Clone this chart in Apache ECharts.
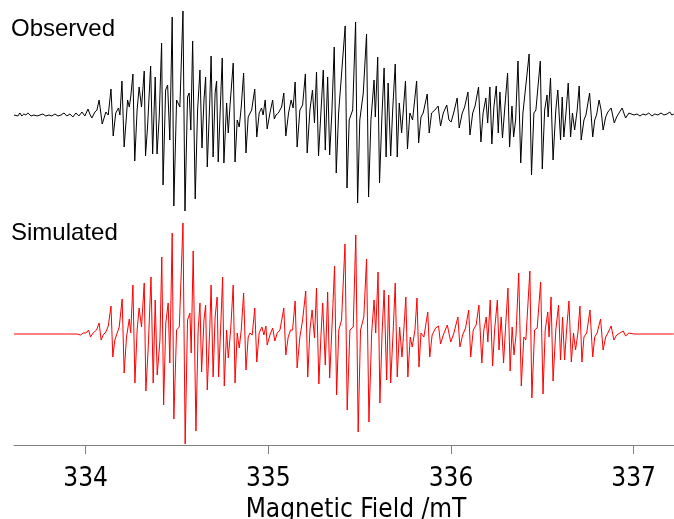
<!DOCTYPE html>
<html>
<head>
<meta charset="utf-8">
<script src="https://cdn.jsdelivr.net/npm/echarts@6/dist/echarts.min.js"></script>
<style>
  html, body { margin: 0; padding: 0; background: #ffffff; }
  #chart { width: 674px; height: 519px; }
</style>
</head>
<body>
<div id="chart"></div>
<script>
  // field in mT, signal in arbitrary units (derivative EPR spectrum)
  var fieldMin = 333.608;
  var fieldMax = 337.221;
  var tickValues = [334, 335, 336, 337];

  var observedField = [
    333.608, 333.618, 333.629, 333.640, 333.651, 333.662, 333.673, 333.684, 333.701, 333.717,
    333.734, 333.750, 333.766, 333.782, 333.799, 333.815, 333.832, 333.849, 333.865, 333.882,
    333.897, 333.914, 333.930, 333.947, 333.963, 333.980, 333.996, 334.013, 334.023, 334.034,
    334.051, 334.062, 334.074, 334.091, 334.111, 334.124, 334.139, 334.151, 334.165, 334.180,
    334.188, 334.199, 334.211, 334.230, 334.239, 334.247, 334.259, 334.269, 334.282, 334.293,
    334.306, 334.321, 334.328, 334.339, 334.356, 334.367, 334.381, 334.391, 334.403, 334.416,
    334.424, 334.438, 334.449, 334.461, 334.474, 334.483, 334.498, 334.516, 334.533, 334.544,
    334.558, 334.567, 334.576, 334.586, 334.600, 334.613, 334.626, 334.637, 334.648, 334.657,
    334.666, 334.680, 334.687, 334.698, 334.709, 334.717, 334.726, 334.739, 334.748, 334.757,
    334.772, 334.781, 334.790, 334.808, 334.818, 334.830, 334.841, 334.852, 334.865, 334.878,
    334.890, 334.909, 334.926, 334.937, 334.950, 334.963, 334.972, 334.983, 334.994, 335.009,
    335.024, 335.033, 335.042, 335.055, 335.073, 335.085, 335.096, 335.111, 335.125, 335.136,
    335.147, 335.158, 335.173, 335.188, 335.203, 335.213, 335.228, 335.242, 335.253, 335.264,
    335.275, 335.288, 335.301, 335.312, 335.325, 335.336, 335.348, 335.361, 335.372, 335.385,
    335.421, 335.431, 335.443, 335.462, 335.478, 335.489, 335.501, 335.520, 335.538, 335.549,
    335.562, 335.579, 335.586, 335.599, 335.609, 335.622, 335.634, 335.645, 335.656, 335.670,
    335.681, 335.695, 335.706, 335.717, 335.730, 335.751, 335.762, 335.775, 335.790, 335.812,
    335.823, 335.836, 335.848, 335.870, 335.881, 335.894, 335.912, 335.930, 335.943, 335.958,
    335.977, 335.989, 336.001, 336.016, 336.034, 336.045, 336.062, 336.075, 336.093, 336.104,
    336.119, 336.132, 336.151, 336.164, 336.176, 336.191, 336.201, 336.213, 336.224, 336.235,
    336.248, 336.259, 336.268, 336.282, 336.295, 336.310, 336.321, 336.334, 336.343, 336.354,
    336.367, 336.382, 336.394, 336.404, 336.428, 336.441, 336.454, 336.465, 336.489, 336.500,
    336.513, 336.526, 336.532, 336.545, 336.559, 336.574, 336.585, 336.600, 336.609, 336.618,
    336.631, 336.642, 336.655, 336.665, 336.677, 336.691, 336.702, 336.713, 336.728, 336.739,
    336.759, 336.776, 336.787, 336.797, 336.811, 336.822, 336.833, 336.847, 336.859, 336.877,
    336.894, 336.907, 336.920, 336.937, 336.956, 336.974, 337.002, 337.018, 337.035, 337.051,
    337.067, 337.083, 337.100, 337.116, 337.133, 337.150, 337.166, 337.183, 337.198, 337.209,
    337.220
  ];
  var observedSignal = [
    0, 1, -1, 2, -1, 1, 0, 2, -1, 0,
    -1, 0, 1, -1, 0, -1, 1, -1, 0, 2,
    -1, 1, -2, 2, -1, 3, -1, 6, 1, -3,
    3, 5, 15, -9, 3, 0, 26, -21, 2, 7,
    0, 34, -32, 15, 8, 18, 41, -46, 5, 28,
    8, 44, -41, -12, 49, -39, 38, -39, -2, 72,
    -70, 25, 30, -25, 98, -91, 15, 8, 104, -96,
    18, 22, -15, 74, -84, 5, 45, -33, 15, 38,
    -52, 15, 59, -42, 22, 34, -47, 15, 57, -48,
    12, -18, 8, 52, -47, -5, -12, 8, 42, -38,
    -2, 5, 26, -22, 2, 7, 0, 15, -14, 2,
    15, -4, 0, 2, 8, 22, -21, 2, 15, 7,
    33, -32, 5, 10, 41, -38, 5, 25, -8, 43,
    -41, 2, 45, -35, 38, -40, 2, 68, -58, 2,
    89, -73, -5, 5, 93, -88, -5, 22, 81, -82,
    -5, 35, -2, 58, -68, -2, 47, -42, 32, -41,
    5, 51, -42, 12, -18, 34, -34, 2, -5, 34,
    -28, -2, 2, 21, -18, 2, 5, 9, -11, 2,
    10, -5, -7, 3, 17, -13, 2, 8, 23, -20,
    2, 9, 28, -27, 2, 17, -8, 28, -29, 8,
    29, -18, 23, -23, 8, 42, -32, 9, -22, -5,
    54, -48, 2, 0, 61, -60, 2, 5, 54, -54,
    5, 20, -2, 37, -45, 5, 25, -25, 18, -22,
    5, 32, -22, 2, -15, 5, 29, -25, -5, 0,
    22, -22, -5, 0, 15, 5, -15, -2, 3, 7,
    -8, -2, 2, 7, -3, 2, 0, 1, -1, 1,
    0, 2, -1, 1, 0, 2, 0, 1, 3, 0,
    1
  ];

  var simulatedField = [
    333.608, 333.952, 333.962, 333.973, 333.987, 334.002, 334.016, 334.027, 334.041, 334.060,
    334.074, 334.085, 334.096, 334.111, 334.124, 334.139, 334.149, 334.160, 334.169, 334.184,
    334.200, 334.211, 334.224, 334.239, 334.247, 334.259, 334.270, 334.282, 334.293, 334.306,
    334.321, 334.330, 334.343, 334.358, 334.370, 334.381, 334.392, 334.407, 334.417, 334.427,
    334.439, 334.452, 334.461, 334.474, 334.483, 334.498, 334.513, 334.533, 334.545, 334.558,
    334.571, 334.578, 334.589, 334.604, 334.616, 334.626, 334.635, 334.648, 334.657, 334.666,
    334.680, 334.687, 334.698, 334.709, 334.720, 334.728, 334.739, 334.750, 334.759, 334.772,
    334.781, 334.794, 334.808, 334.818, 334.830, 334.841, 334.852, 334.865, 334.878, 334.890,
    334.900, 334.912, 334.926, 334.937, 334.950, 334.965, 334.976, 334.987, 334.994, 335.009,
    335.024, 335.036, 335.049, 335.064, 335.085, 335.096, 335.109, 335.122, 335.133, 335.147,
    335.158, 335.173, 335.188, 335.205, 335.216, 335.228, 335.240, 335.253, 335.264, 335.277,
    335.288, 335.298, 335.312, 335.325, 335.336, 335.348, 335.363, 335.374, 335.386, 335.401,
    335.420, 335.432, 335.447, 335.465, 335.479, 335.492, 335.505, 335.523, 335.538, 335.551,
    335.566, 335.579, 335.588, 335.601, 335.611, 335.623, 335.634, 335.648, 335.659, 335.670,
    335.684, 335.695, 335.706, 335.719, 335.732, 335.742, 335.753, 335.764, 335.777, 335.788,
    335.803, 335.814, 335.825, 335.836, 335.852, 335.873, 335.884, 335.897, 335.916, 335.932,
    335.943, 335.958, 335.980, 335.999, 336.016, 336.038, 336.049, 336.064, 336.080, 336.097,
    336.108, 336.122, 336.138, 336.153, 336.169, 336.180, 336.193, 336.202, 336.215, 336.228,
    336.239, 336.254, 336.263, 336.275, 336.288, 336.299, 336.312, 336.324, 336.335, 336.345,
    336.356, 336.371, 336.385, 336.399, 336.410, 336.432, 336.443, 336.458, 336.472, 336.491,
    336.504, 336.516, 336.530, 336.537, 336.548, 336.559, 336.574, 336.589, 336.600, 336.611,
    336.622, 336.633, 336.646, 336.659, 336.671, 336.682, 336.695, 336.706, 336.717, 336.728,
    336.743, 336.761, 336.776, 336.787, 336.800, 336.819, 336.833, 336.847, 336.859, 336.877,
    336.892, 336.907, 336.925, 336.943, 336.956, 336.974, 337.002, 337.220
  ];
  var simulatedSignal = [
    0, 0, 1, -1, 1, 1, 4, -3, 1, 4,
    11, -6, -1, 2, 8, 28, -23, -6, -1, 7,
    35, -39, -3, 15, 1, 49, -49, 4, 26, 7,
    51, -57, -13, 57, -49, 34, -41, -6, 77, -71,
    11, 31, -29, 101, -85, 4, 7, 111, -110, 14,
    21, -19, 83, -97, 4, 31, -38, 14, 29, -56,
    7, 49, -43, 17, 37, -43, 4, 57, -52, 4,
    -24, 4, 49, -49, 1, -14, 4, 41, -36, -3,
    1, -1, 26, -28, 1, 7, -1, 8, -11, -1,
    6, -7, 1, 4, 26, -21, -3, 4, 4, 33,
    -34, -3, 14, 43, -43, 4, 24, -4, 46, -50,
    -3, 31, -31, 42, -44, 4, 68, -61, 4, 14,
    90, -76, 4, 7, 99, -98, 4, 17, 75, -88,
    1, 34, 1, 62, -69, 1, 44, -46, 39, -49,
    4, 51, -43, 7, -23, 4, 37, -43, -3, -13,
    4, 36, -33, 1, -3, 22, -23, -1, 6, 8,
    -10, -1, 9, -8, 1, 17, -13, -1, 6, 24,
    -23, 4, 9, 29, -29, 4, 17, -8, 34, -32,
    4, 34, -16, 17, -29, 7, 46, -37, 7, -21,
    -1, 61, -52, -3, -6, 63, -64, 4, 6, 52,
    -60, 4, 22, -3, 37, -47, 4, 29, -26, 17,
    -26, 4, 33, -28, 1, -16, 1, 28, -28, -3,
    1, 24, -23, -3, 1, 15, -16, -3, 1, 8,
    -6, -1, 1, 3, -2, 1, 0, 0
  ];

  function zip(xs, ys) {
    var out = [];
    for (var i = 0; i < xs.length; i++) {
      out.push([xs[i], ys[i]]);
    }
    return out;
  }

  var axisFont = '"Liberation Sans Narrow", "DejaVu Sans Condensed", sans-serif';

  var myChart = echarts.init(document.getElementById('chart'));
  var option = {
    backgroundColor: '#ffffff',
    animation: false,
    grid: [
      {left: 14, right: 0, top: 5, height: 220, outerBoundsMode: 'none', containLabel: false},
      {left: 14, right: 0, top: 221, height: 224, outerBoundsMode: 'none', containLabel: false}
    ],
    xAxis: [{
      type: 'value',
      gridIndex: 0,
      min: fieldMin,
      max: fieldMax,
      show: false
    }, {
      type: 'value',
      gridIndex: 1,
      min: fieldMin,
      max: fieldMax,
      name: 'Magnetic Field /mT',
      nameLocation: 'middle',
      nameGap: 52,
      nameTextStyle: {
        color: '#000000',
        fontSize: 26,
        fontFamily: axisFont,
        padding: [0, 0, 0, 24]
      },
      splitLine: {show: false},
      axisLine: {onZero: false, lineStyle: {color: '#808080', width: 1}},
      axisTick: {
        show: true,
        length: 9,
        customValues: tickValues,
        lineStyle: {color: '#808080', width: 1}
      },
      axisLabel: {
        customValues: tickValues,
        margin: 21,
        color: '#000000',
        fontSize: 26,
        fontFamily: axisFont
      }
    }],
    yAxis: [{
      type: 'value',
      gridIndex: 0,
      min: -110,
      max: 110,
      show: false
    }, {
      type: 'value',
      gridIndex: 1,
      min: -111,
      max: 113,
      show: false
    }],
    graphic: [{
      type: 'text',
      left: 11,
      top: 17,
      style: {
        text: 'Observed',
        fill: '#000000',
        font: '24px "Liberation Sans", Arial, sans-serif'
      }
    }, {
      type: 'text',
      left: 11,
      top: 221,
      style: {
        text: 'Simulated',
        fill: '#000000',
        font: '24px "Liberation Sans", Arial, sans-serif'
      }
    }],
    series: [{
      name: 'Observed',
      type: 'line',
      xAxisIndex: 0,
      yAxisIndex: 0,
      showSymbol: false,
      clip: false,
      lineStyle: {color: '#000000', width: 1},
      data: zip(observedField, observedSignal)
    }, {
      name: 'Simulated',
      type: 'line',
      xAxisIndex: 1,
      yAxisIndex: 1,
      showSymbol: false,
      clip: false,
      lineStyle: {color: '#ff0000', width: 1},
      data: zip(simulatedField, simulatedSignal)
    }]
  };
  myChart.setOption(option);
</script>
</body>
</html>
